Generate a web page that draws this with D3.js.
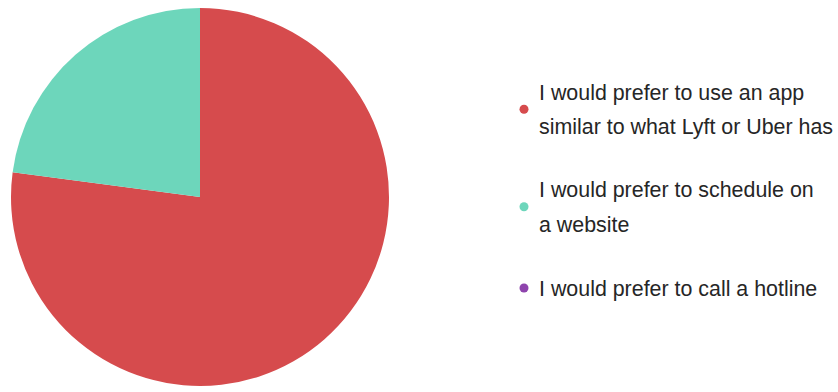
<!DOCTYPE html>
<html>
<head>
<meta charset="utf-8">
<script src="https://cdn.jsdelivr.net/npm/d3@7"></script>
<style>
  html, body { margin: 0; padding: 0; background: #ffffff; }
  svg { display: block; }
  text { font-family: "Liberation Sans", Arial, sans-serif; fill: #262626; }
</style>
</head>
<body>
<svg id="chart" width="838" height="392"></svg>
<script>
// Survey answers: share of respondents per preference
const categories = [
  "I would prefer to use an app similar to what Lyft or Uber has",
  "I would prefer to schedule on a website",
  "I would prefer to call a hotline"
];
const legendLines = [
  ["I would prefer to use an app", "similar to what Lyft or Uber has"],
  ["I would prefer to schedule on", "a website"],
  ["I would prefer to call a hotline"]
];
const values = [77.1, 22.9, 0];
const colors = ["#d64b4d", "#6dd6bb", "#8e44ad"];

const svg = d3.select("#chart");
const cx = 200, cy = 197, radius = 189;

const pie = d3.pie().sort(null).value(d => d)
  .startAngle(0).endAngle(2 * Math.PI);
const arc = d3.arc().innerRadius(0).outerRadius(radius);

svg.append("g")
  .attr("transform", `translate(${cx},${cy})`)
  .selectAll("path")
  .data(pie(values))
  .join("path")
  .attr("d", arc)
  .attr("fill", (d, i) => colors[i]);

// Legend: wrapped labels with a dot centred on each text block
const legendX = 524, textX = 539;
const firstBaseline = [99.5, 197, 295.5];
const lineGap = 34.5;
const legend = svg.append("g");
legendLines.forEach((lines, i) => {
  const g = legend.append("g");
  const last = firstBaseline[i] + (lines.length - 1) * lineGap;
  g.append("circle")
    .attr("cx", legendX)
    .attr("cy", (firstBaseline[i] + last) / 2 - 7.5)
    .attr("r", 4.5)
    .attr("fill", colors[i]);
  lines.forEach((t, j) => {
    g.append("text")
      .attr("x", textX)
      .attr("y", firstBaseline[i] + j * lineGap)
      .attr("font-size", 21.4)
      .text(t);
  });
});
</script>
</body>
</html>
